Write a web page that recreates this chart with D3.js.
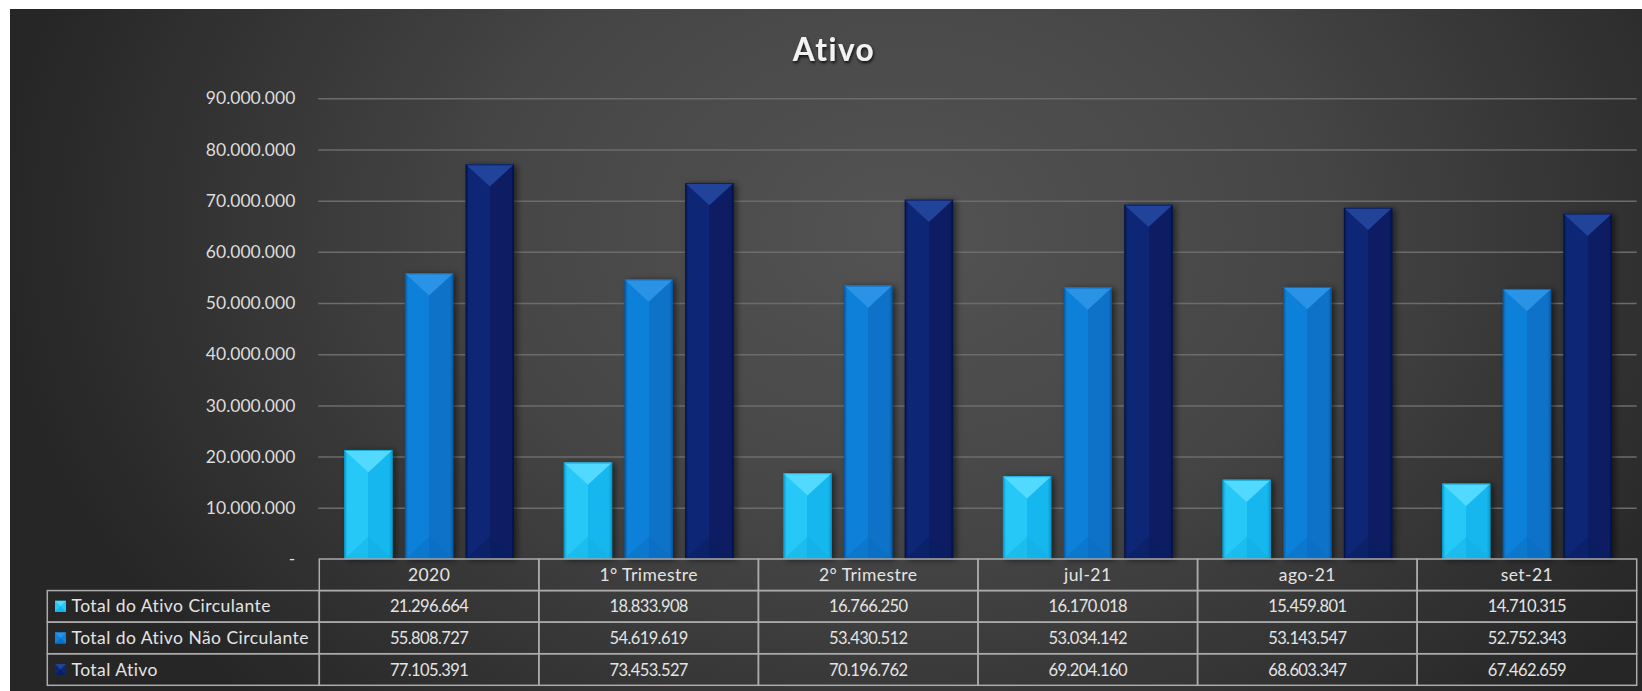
<!DOCTYPE html>
<html>
<head>
<meta charset="utf-8">
<script src="https://cdn.jsdelivr.net/npm/d3@7"></script>
<style>
  html, body { margin: 0; padding: 0; background: #ffffff; }
  svg { display: block; }
  text { font-family: Lato, "Open Sans", sans-serif; }
</style>
</head>
<body>
<svg id="chart" width="1642" height="691"></svg>
<script>
// ---------- data ----------
const title = "Ativo";
const categories = ["2020", "1° Trimestre", "2° Trimestre", "jul-21", "ago-21", "set-21"];
const seriesNames = ["Total do Ativo Circulante", "Total do Ativo Não Circulante", "Total Ativo"];
const circulante = [21296664, 18833908, 16766250, 16170018, 15459801, 14710315];
const naoCirculante = [55808727, 54619619, 53430512, 53034142, 53143547, 52752343];
const totalAtivo = [77105391, 73453527, 70196762, 69204160, 68603347, 67462659];
const yTicks = [0, 10000000, 20000000, 30000000, 40000000, 50000000, 60000000, 70000000, 80000000, 90000000];

const seriesValues = [circulante, naoCirculante, totalAtivo];
// bar styling per series
const seriesStyle = [
  { edge: "#0a9acb", base: "#12b6ee", light: "#26c8f8", top: "#52d9ff", bottom: "#10ade3" },
  { edge: "#065aa3", base: "#0872c8", light: "#1181d9", top: "#2b93e6", bottom: "#086dc0" },
  { edge: "#04144a", base: "#081f64", light: "#0b2876", top: "#22439a", bottom: "#081e60" }
];

const loc = d3.formatLocale({ decimal: ",", thousands: ".", grouping: [3], currency: ["", ""] });
const fmt = loc.format(",.0f");
const tickFmt = v => v === 0 ? "-" : fmt(v);

// ---------- layout ----------
const W = 1642, H = 691;
const svg = d3.select("#chart");
const defs = svg.append("defs");

const bg = defs.append("radialGradient").attr("id", "bg")
  .attr("gradientUnits", "userSpaceOnUse")
  .attr("cx", 900).attr("cy", 230).attr("r", 900)
  .attr("gradientTransform", "translate(900,230) scale(1,0.75) translate(-900,-230)");
bg.append("stop").attr("offset", 0).attr("stop-color", "#535353");
bg.append("stop").attr("offset", 0.45).attr("stop-color", "#464646");
bg.append("stop").attr("offset", 1).attr("stop-color", "#262626");

const sh = defs.append("filter").attr("id", "barShadow")
  .attr("x", "-30%").attr("y", "-10%").attr("width", "160%").attr("height", "120%");
sh.append("feDropShadow").attr("dx", 3).attr("dy", 1).attr("stdDeviation", 3)
  .attr("flood-color", "#000").attr("flood-opacity", 0.55);

const tsh = defs.append("filter").attr("id", "titleShadow")
  .attr("x", "-20%").attr("y", "-30%").attr("width", "140%").attr("height", "160%");
tsh.append("feDropShadow").attr("dx", 1).attr("dy", 2).attr("stdDeviation", 1.5)
  .attr("flood-color", "#000").attr("flood-opacity", 0.8);

seriesStyle.forEach((s, i) => {
  const g = defs.append("linearGradient").attr("id", "barGrad" + i)
    .attr("x1", 0).attr("x2", 1).attr("y1", 0).attr("y2", 0);
  [[0, s.edge], [0.07, s.light], [0.5, s.light], [0.5, s.base], [0.93, s.base], [1, s.edge]]
    .forEach(([o, c]) => g.append("stop").attr("offset", o).attr("stop-color", c));
});

svg.append("rect").attr("x", 10).attr("y", 9).attr("width", W - 10).attr("height", H - 9)
  .attr("fill", "url(#bg)");

const plotLeft = 319.3, plotRight = 1636.7, plotTop = 98.3, plotBottom = 559;

const x0 = d3.scaleBand().domain(categories).range([plotLeft, plotRight]).padding(0);
const x1 = d3.scaleBand().domain(d3.range(seriesNames.length)).range([0, x0.bandwidth()])
  .paddingInner(0.204).paddingOuter(0.41);
const y = d3.scaleLinear().domain([0, 90000000]).range([plotBottom, plotTop]);

// gridlines + y labels
const yAxis = d3.axisLeft(y).tickValues(yTicks).tickFormat(tickFmt)
  .tickSize(-(plotRight - plotLeft)).tickPadding(24);
const ga = svg.append("g").attr("transform", `translate(${plotLeft},0)`).call(yAxis);
ga.select(".domain").remove();
ga.selectAll(".tick line").attr("stroke", "#6c6c6c").attr("stroke-width", 1.5)
  .attr("x1", -1);
ga.selectAll(".tick").filter(d => d === 0).select("line").remove();
ga.selectAll(".tick text").attr("fill", "#dcdcdc").attr("font-size", 17.5)
  .style("font-family", "Lato, sans-serif");

// bars
const gBars = svg.append("g");
categories.forEach((cat, ci) => {
  seriesValues.forEach((vals, si) => {
    const v = vals[ci];
    const bx = x0(cat) + x1(si);
    const bw = x1.bandwidth();
    const yt = y(v), yb = y(0);
    const s = seriesStyle[si];
    const d = Math.min(bw * 0.46, (yb - yt) / 2);
    const g = gBars.append("g");
    g.append("rect").attr("x", bx).attr("y", yt).attr("width", bw).attr("height", yb - yt)
      .attr("fill", "url(#barGrad" + si + ")").attr("filter", "url(#barShadow)");
    g.append("path")
      .attr("d", `M${bx},${yb} L${bx + bw / 2},${yb - d} L${bx + bw},${yb} Z`)
      .attr("fill", s.bottom).attr("opacity", 0.45);
    g.append("path")
      .attr("d", `M${bx},${yt} L${bx + bw},${yt} L${bx + bw / 2},${yt + d} Z`)
      .attr("fill", s.top);
    g.append("rect").attr("x", bx + 0.5).attr("y", yt + 0.5).attr("width", bw - 1).attr("height", yb - yt - 1)
      .attr("fill", "none").attr("stroke", s.edge).attr("stroke-width", 1).attr("opacity", 0.7);
  });
});

// title
svg.append("text").attr("x", 834).attr("y", 61).attr("text-anchor", "middle")
  .attr("fill", "#f2f2f2").attr("font-size", 31.5).attr("font-weight", 700)
  .attr("letter-spacing", 1.5).attr("filter", "url(#titleShadow)")
  .text(title);

// data table
const rowKeys = ["header"].concat(seriesNames);
const rowY = d3.scaleBand().domain(rowKeys).range([559, 685.3]).padding(0);
const tableLeft = 47.3;
const gT = svg.append("g");
const border = "#ababab";
const textCol = "#e4e4e4";
const labelSize = 17.5, labelSpacing = 0.45;
const numSize = 16.5, numSpacing = -0.6;

// header row cells
categories.forEach(cat => {
  gT.append("rect").attr("x", x0(cat)).attr("y", rowY("header"))
    .attr("width", x0.bandwidth()).attr("height", rowY.bandwidth())
    .attr("fill", "none").attr("stroke", border).attr("stroke-width", 1.5);
  gT.append("text").attr("x", x0(cat) + x0.bandwidth() / 2)
    .attr("y", rowY("header") + rowY.bandwidth() / 2 + 6)
    .attr("text-anchor", "middle").attr("fill", textCol)
    .attr("font-size", labelSize).attr("letter-spacing", labelSpacing).text(cat);
});

seriesNames.forEach((name, si) => {
  const ry = rowY(name);
  gT.append("rect").attr("x", tableLeft).attr("y", ry)
    .attr("width", plotLeft - tableLeft).attr("height", rowY.bandwidth())
    .attr("fill", "none").attr("stroke", border).attr("stroke-width", 1.5);
  // legend key
  const s = seriesStyle[si];
  const kx = 55, ky = ry + rowY.bandwidth() / 2 - 5.5, ks = 11;
  gT.append("rect").attr("x", kx).attr("y", ky).attr("width", ks).attr("height", ks).attr("fill", s.light);
  gT.append("path").attr("d", `M${kx},${ky} L${kx + ks},${ky} L${kx + ks / 2},${ky + ks / 2} Z`).attr("fill", s.top);
  gT.append("path").attr("d", `M${kx},${ky + ks} L${kx + ks},${ky + ks} L${kx + ks / 2},${ky + ks / 2} Z`).attr("fill", s.base);
  gT.append("text").attr("x", 71.5).attr("y", ry + rowY.bandwidth() / 2 + 6)
    .attr("fill", textCol).attr("font-size", labelSize).attr("letter-spacing", labelSpacing).text(name);
  categories.forEach((cat, ci) => {
    gT.append("rect").attr("x", x0(cat)).attr("y", ry)
      .attr("width", x0.bandwidth()).attr("height", rowY.bandwidth())
      .attr("fill", "none").attr("stroke", border).attr("stroke-width", 1.5);
    gT.append("text").attr("x", x0(cat) + x0.bandwidth() / 2)
      .attr("y", ry + rowY.bandwidth() / 2 + 6)
      .attr("text-anchor", "middle").attr("fill", textCol)
      .attr("font-size", numSize).attr("letter-spacing", numSpacing)
      .text(fmt(seriesValues[si][ci]));
  });
});
</script>
</body>
</html>
